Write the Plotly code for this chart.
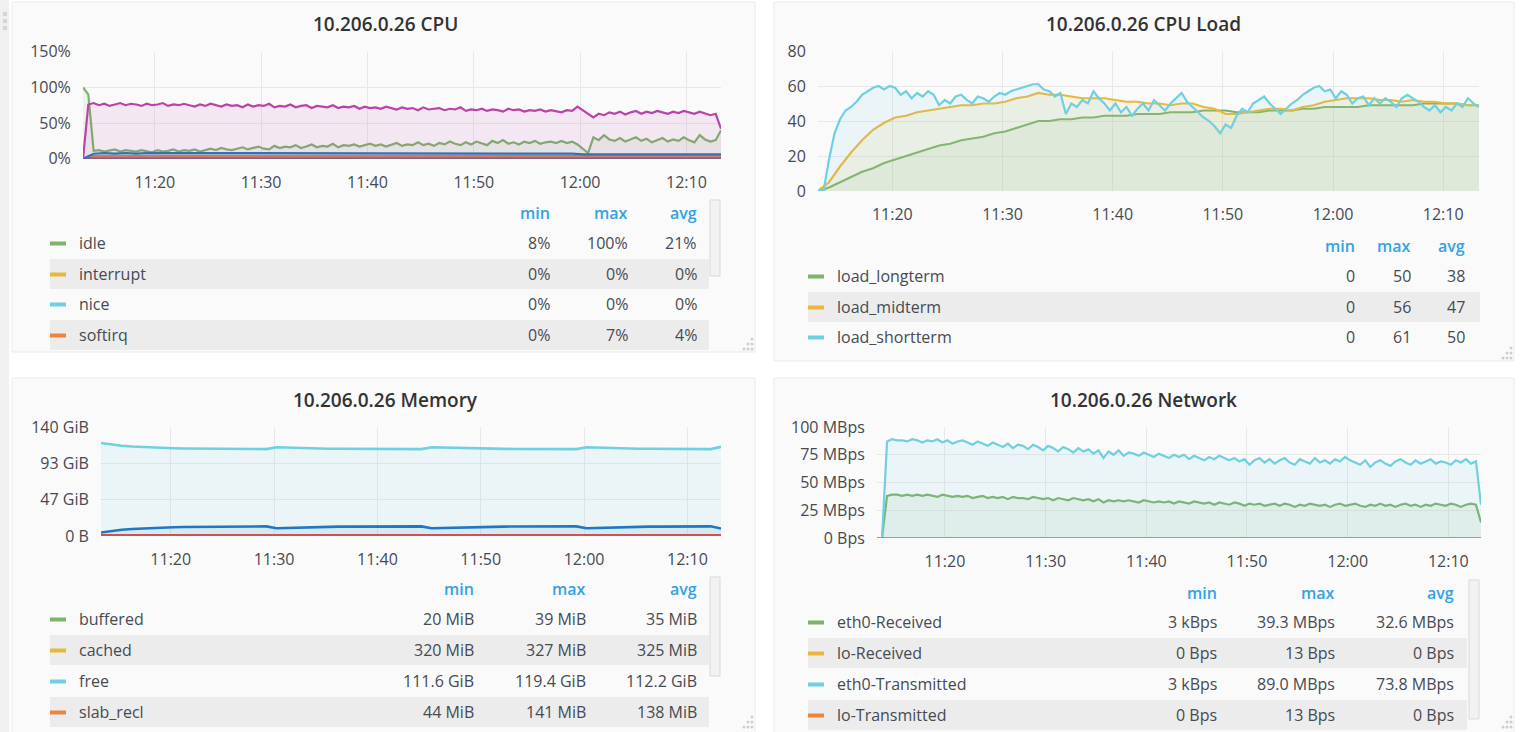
import plotly.graph_objects as go
import pandas as pd

W, H = 1520, 732
T0 = pd.Timestamp("2024-01-01 11:13:15")
T1 = pd.Timestamp("2024-01-01 12:13:15")

# ---------------- CPU panel (percent) ----------------
cpu_names = ["idle", "interrupt", "nice", "softirq", "steal", "system", "user", "wait"]
cpu_idle = [
    100, 90, 11, 12, 10, 11, 13, 10, 12, 11,
    10, 12, 11, 9, 12, 10, 11, 13, 10, 12,
    11, 13, 10, 12, 14, 12, 15, 13, 12, 14,
    16, 13, 15, 17, 14, 13, 18, 15, 17, 16,
    19, 15, 17, 20, 16, 18, 17, 21, 16, 19,
    18, 20, 17, 19, 21, 18, 20, 17, 19, 22,
    18, 20, 19, 23, 19, 21, 18, 22, 20, 24,
    21, 19, 23, 20, 24, 21, 19, 25, 22, 26,
    21, 23, 20, 24, 22, 25, 21, 23, 24, 22,
    25, 22, 24, 20, 14, 8, 30, 26, 33, 27,
    25, 29, 24, 27, 30, 25, 28, 23, 26, 29,
    24, 27, 25, 30, 26, 23, 33, 27, 24, 26,
    40]
cpu_interrupt = [0, 0, 0, 0, 0, 0, 0, 0, 0, 0, 0, 0, 0]
cpu_nice = [0, 0, 0, 0, 0, 0, 0, 0, 0, 0, 0, 0, 0]
cpu_softirq = [
    0, 4, 4, 4, 5, 4, 4, 4, 4, 4,
    4, 4, 5, 4, 4, 4, 4, 4, 4, 5,
    4, 4, 4, 4, 4, 4, 5, 4, 4, 4,
    4, 4, 4, 4, 4, 5, 4, 4, 4, 4,
    4, 4, 4, 4, 4, 4, 4, 4, 4, 4,
    4, 4, 4, 4, 4, 4, 4, 4, 4, 4,
    4]
cpu_steal = [0, 0, 0, 0, 0, 0, 0, 0, 0, 0, 0, 0, 0]
cpu_system = [
    0, 7, 8, 7, 8, 7, 8, 8, 7, 8,
    7, 8, 7, 8, 7, 7, 8, 7, 8, 7,
    7, 8, 7, 7, 8, 7, 7, 8, 7, 7,
    8, 7, 7, 8, 7, 7, 7, 8, 7, 7,
    7, 8, 7, 7, 7, 7, 7, 6, 6, 6,
    6, 7, 6, 6, 7, 6, 6, 6, 7, 6,
    6]
cpu_user = [
    0, 76, 78, 75, 77, 74, 76, 78, 75, 77,
    76, 74, 77, 75, 76, 78, 74, 76, 75, 77,
    75, 73, 76, 74, 77, 75, 73, 76, 74, 75,
    72, 76, 73, 75, 74, 77, 72, 74, 73, 76,
    72, 74, 75, 71, 74, 73, 72, 75, 71, 73,
    72, 74, 70, 73, 71, 72, 70, 73, 71, 69,
    72, 70, 71, 68, 72, 69, 70, 71, 68, 70,
    69, 72, 67, 69, 68, 70, 67, 69, 68, 66,
    70, 68, 69, 66, 68, 67, 69, 66, 68, 67,
    65, 68, 67, 73, 68, 62, 58, 63, 61, 65,
    63, 66, 62, 65, 67, 63, 66, 64, 67, 65,
    63, 66, 64, 67, 65, 63, 66, 64, 61, 63,
    42]
cpu_wait = [0, 0.3, 0.3, 0.3, 0.3, 0.3, 0.3, 0.3, 0.3, 0.3, 0.3, 0.3, 0.3]
cpu_tick_vals = [0, 50, 100, 150]
cpu_tick_text = ["0%", "50%", "100%", "150%"]
cpu_leg_names = ["idle", "interrupt", "nice", "softirq"]
cpu_leg_min = ["8%", "0%", "0%", "0%"]
cpu_leg_max = ["100%", "0%", "0%", "7%"]
cpu_leg_avg = ["21%", "0%", "0%", "4%"]

# ---------------- CPU Load panel ----------------
load_shortterm = [
    0, 0, 18, 33, 41, 46, 48, 51, 55, 57,
    59, 60, 58, 60, 59, 55, 57, 53, 56, 54,
    57, 55, 49, 52, 50, 54, 55, 52, 50, 54,
    53, 51, 54, 56, 55, 57, 58, 59, 60, 61,
    61, 58, 57, 54, 56, 44, 50, 48, 52, 50,
    57, 53, 50, 46, 50, 45, 48, 43, 47, 50,
    46, 52, 49, 46, 50, 53, 56, 51, 48, 45,
    42, 40, 37, 33, 38, 36, 43, 47, 45, 50,
    52, 54, 50, 47, 44, 47, 50, 52, 55, 57,
    59, 60, 57, 58, 53, 57, 55, 50, 53, 54,
    49, 53, 50, 53, 51, 48, 53, 55, 53, 51,
    48, 46, 49, 45, 48, 46, 50, 48, 53, 50,
    48]
load_midterm = [
    0, 5, 14, 22, 29, 35, 39, 42, 43, 45,
    46, 47, 48, 49, 49, 50, 50, 51, 53, 54,
    56, 55, 55, 54, 53, 53, 53, 52, 51, 51,
    50, 50, 49, 50, 50, 48, 47, 44, 44, 45,
    46, 47, 47, 46, 48, 49, 51, 52, 53, 53,
    53, 52, 52, 51, 52, 51, 51, 50, 50, 49,
    49]
load_longterm = [
    0, 2, 5, 8, 11, 13, 16, 18, 20, 22,
    24, 26, 27, 29, 30, 31, 33, 34, 36, 38,
    40, 40, 41, 41, 42, 42, 43, 43, 43, 44,
    44, 44, 45, 45, 45, 46, 46, 46, 45, 45,
    45, 46, 46, 46, 47, 47, 48, 48, 48, 48,
    49, 49, 49, 49, 49, 50, 50, 50, 50, 49,
    49]
load_leg_names = ["load_longterm", "load_midterm", "load_shortterm"]
load_leg_min = ["0", "0", "0"]
load_leg_max = ["50", "56", "61"]
load_leg_avg = ["38", "47", "50"]

# ---------------- Memory panel (GiB) ----------------
mem_buffered = [0.02, 0.034, 0.035, 0.035, 0.036, 0.036, 0.036, 0.037, 0.037, 0.038, 0.038, 0.038, 0.038]
mem_cached = [0.32, 0.322, 0.324, 0.325, 0.325, 0.326, 0.326, 0.326, 0.327, 0.327, 0.327, 0.327, 0.327]
mem_free = [
    119.4, 117.5, 116.0, 115.0, 114.2, 113.6, 113.1, 112.7, 112.4, 112.2,
    112.0, 111.9, 111.8, 111.7, 111.7, 111.6, 111.6, 114.0, 113.5, 113.0,
    112.6, 112.3, 112.1, 112.0, 111.9, 111.8, 111.8, 111.7, 111.7, 111.7,
    111.6, 111.6, 114.0, 113.6, 113.1, 112.7, 112.4, 112.2, 112.0, 111.9,
    111.8, 111.8, 111.7, 111.7, 111.7, 111.6, 111.6, 114.0, 113.5, 113.0,
    112.6, 112.3, 112.1, 112.0, 111.9, 111.8, 111.7, 111.7, 111.6, 111.6,
    114.5]
mem_slab_recl = [0.043, 0.13, 0.135, 0.136, 0.137, 0.137, 0.138, 0.138, 0.138, 0.139, 0.139, 0.14, 0.138]
mem_slab_unrecl = [0.8, 0.9, 0.9, 0.9, 0.9, 0.9, 0.9, 0.9, 0.9, 0.9, 0.9, 0.9, 0.9]
mem_used = [
    4.5, 6.5, 8.0, 9.0, 9.8, 10.4, 10.9, 11.3, 11.6, 11.8,
    12.0, 12.1, 12.2, 12.3, 12.3, 12.4, 12.4, 10.0, 10.5, 11.0,
    11.4, 11.7, 11.9, 12.0, 12.1, 12.2, 12.2, 12.3, 12.3, 12.3,
    12.4, 12.4, 10.0, 10.4, 10.9, 11.3, 11.6, 11.8, 12.0, 12.1,
    12.2, 12.2, 12.3, 12.3, 12.3, 12.4, 12.4, 10.0, 10.5, 11.0,
    11.4, 11.7, 11.9, 12.0, 12.1, 12.2, 12.3, 12.3, 12.4, 12.4,
    9.5]
mem_tick_vals = [0, 140 / 3, 280 / 3, 140]
mem_tick_text = ["0 B", "47 GiB", "93 GiB", "140 GiB"]
mem_leg_names = ["buffered", "cached", "free", "slab_recl"]
mem_leg_min = ["20 MiB", "320 MiB", "111.6 GiB", "44 MiB"]
mem_leg_max = ["39 MiB", "327 MiB", "119.4 GiB", "141 MiB"]
mem_leg_avg = ["35 MiB", "325 MiB", "112.2 GiB", "138 MiB"]

# ---------------- Network panel (MBps) ----------------
net_eth0_rx = [
    0, 0, 38, 39, 39, 38, 39, 38, 39, 38,
    39, 38, 37, 39, 38, 37, 38, 37, 38, 36,
    37, 38, 36, 37, 36, 37, 35, 37, 36, 36,
    35, 37, 36, 35, 36, 34, 36, 35, 34, 36,
    35, 34, 35, 33, 35, 32, 34, 33, 34, 33,
    34, 33, 32, 34, 33, 32, 33, 32, 33, 31,
    33, 32, 31, 33, 32, 31, 32, 30, 32, 31,
    30, 32, 31, 29, 31, 30, 31, 29, 30, 31,
    29, 31, 30, 28, 30, 29, 31, 30, 29, 30,
    28, 30, 31, 29, 30, 31, 29, 28, 30, 29,
    31, 29, 30, 28, 30, 31, 29, 30, 28, 30,
    29, 31, 30, 29, 31, 30, 28, 30, 31, 30,
    14]
net_lo_rx = [0, 0, 0, 0, 0, 0, 0, 0, 0, 0, 0, 0, 0]
net_eth0_tx = [
    0, 0, 87, 89, 88, 88, 87, 89, 88, 86,
    88, 87, 89, 86, 88, 85, 87, 88, 86, 84,
    87, 85, 83, 86, 84, 82, 85, 81, 84, 83,
    80, 84, 82, 79, 83, 81, 78, 82, 80, 77,
    81, 78, 80, 76, 79, 72, 78, 75, 79, 74,
    77, 76, 74, 77, 75, 73, 76, 74, 72, 75,
    73, 75, 71, 74, 72, 70, 73, 71, 74, 72,
    70, 72, 69, 71, 66, 70, 72, 68, 71, 67,
    70, 72, 68, 66, 71, 69, 67, 72, 68, 70,
    67, 71, 69, 73, 70, 68, 66, 70, 64, 68,
    70, 67, 65, 69, 71, 68, 66, 70, 67, 69,
    71, 67, 69, 68, 66, 70, 68, 71, 67, 69,
    30]
net_lo_tx = [0, 0, 0, 0, 0, 0, 0, 0, 0, 0, 0, 0, 0]
net_tick_vals = [0, 25, 50, 75, 100]
net_tick_text = ["0 Bps", "25 MBps", "50 MBps", "75 MBps", "100 MBps"]
net_leg_names = ["eth0-Received", "lo-Received", "eth0-Transmitted", "lo-Transmitted"]
net_leg_min = ["3 kBps", "0 Bps", "3 kBps", "0 Bps"]
net_leg_max = ["39.3 MBps", "13 Bps", "89.0 MBps", "13 Bps"]
net_leg_avg = ["32.6 MBps", "0 Bps", "73.8 MBps", "0 Bps"]

# ---------------- styling ----------------
GREEN, YELLOW, LBLUE, ORANGE = "#7EB26D", "#EAB839", "#6ED0E0", "#EF843C"
RED, BLUE, PURPLE, DPURPLE = "#E24D42", "#1F78C1", "#BA43A9", "#705DA0"
FONT = "Open Sans"
TXT = "#464a52"
HDR = "#33a2e5"


def times(n):
    return pd.date_range(T0, T1, periods=n)


def rgba(hx, a):
    h = hx.lstrip("#")
    return "rgba(%d,%d,%d,%.2f)" % (int(h[0:2], 16), int(h[2:4], 16), int(h[4:6], 16), a)


def px(x):
    return x / W


def py(y):
    return 1 - y / H


fig = go.Figure()


def add(ys, color, k, name, width=2.2):
    fig.add_trace(go.Scatter(
        x=times(len(ys)), y=ys, mode="lines", name=name,
        line=dict(color=color, width=width), fill="tozeroy", fillcolor=rgba(color, 0.1),
        xaxis="x" if k == 1 else "x%d" % k, yaxis="y" if k == 1 else "y%d" % k,
        hoverinfo="skip", showlegend=False))


for ys, c, n in [(cpu_idle, GREEN, "idle"), (cpu_interrupt, YELLOW, "interrupt"), (cpu_nice, LBLUE, "nice"),
                 (cpu_softirq, ORANGE, "softirq"), (cpu_steal, RED, "steal"), (cpu_system, BLUE, "system"),
                 (cpu_user, PURPLE, "user"), (cpu_wait, DPURPLE, "wait")]:
    add(ys, c, 1, n)
for ys, c, n in [(load_longterm, GREEN, "load_longterm"), (load_midterm, YELLOW, "load_midterm"),
                 (load_shortterm, LBLUE, "load_shortterm")]:
    add(ys, c, 2, n)
for ys, c, n in [(mem_buffered, GREEN, "buffered"), (mem_cached, YELLOW, "cached"), (mem_free, LBLUE, "free"),
                 (mem_slab_recl, ORANGE, "slab_recl"), (mem_slab_unrecl, RED, "slab_unrecl"), (mem_used, BLUE, "used")]:
    add(ys, c, 3, n, width=2.6)
for ys, c, n in [(net_eth0_rx, GREEN, "eth0-Received"), (net_lo_rx, YELLOW, "lo-Received"),
                 (net_eth0_tx, LBLUE, "eth0-Transmitted"), (net_lo_tx, ORANGE, "lo-Transmitted")]:
    add(ys, c, 4, n)

# plot areas in pixels: (x0, x1, ytop, ybottom)
areas = {1: (83, 721, 51.7, 158.7), 2: (818, 1479, 51, 191), 3: (101, 721, 427, 536), 4: (877, 1481, 427, 538)}
yconf = {1: (150, cpu_tick_vals, cpu_tick_text), 2: (80, [0, 20, 40, 60, 80], ["0", "20", "40", "60", "80"]),
         3: (140, mem_tick_vals, mem_tick_text), 4: (100, net_tick_vals, net_tick_text)}

lay = {}
for k, (x0, x1, yt, yb) in areas.items():
    xa = "xaxis" if k == 1 else "xaxis%d" % k
    ya = "yaxis" if k == 1 else "yaxis%d" % k
    yn = "y" if k == 1 else "y%d" % k
    xn = "x" if k == 1 else "x%d" % k
    lay[xa] = dict(domain=[px(x0), px(x1)], anchor=yn, range=[T0, T1], type="date",
                   tickformat="%H:%M", dtick=600000, tick0="2024-01-01 11:00:00",
                   showgrid=True, gridcolor="#e8e8e8", gridwidth=1, zeroline=False, showline=False,
                   ticks="outside", ticklen=9, tickcolor="rgba(0,0,0,0)", automargin=False,
                   tickfont=dict(family=FONT, size=16, color=TXT), fixedrange=True)
    top, tv, tt = yconf[k]
    lay[ya] = dict(domain=[py(yb), py(yt)], anchor=xn, range=[0, top], tickvals=tv, ticktext=tt,
                   showgrid=True, gridcolor="#e8e8e8", gridwidth=1, zeroline=False, showline=False,
                   ticks="outside", ticklen=8, tickcolor="rgba(0,0,0,0)", automargin=False,
                   tickfont=dict(family=FONT, size=16, color=TXT), fixedrange=True)

shapes = []
anns = []


def rect(x0, y0, x1, y1, fill, line=None, lw=1):
    shapes.append(dict(type="rect", xref="paper", yref="paper", x0=px(x0), x1=px(x1), y0=py(y1), y1=py(y0),
                       fillcolor=fill, line=dict(color=line or "rgba(0,0,0,0)", width=lw if line else 0),
                       layer="below"))


def text(x, y, s, size=16, color=TXT, anchor="left", weight=400):
    anns.append(dict(x=px(x), y=py(y), xref="paper", yref="paper", text=s, showarrow=False,
                     xanchor=anchor, yanchor="middle", font=dict(family=FONT, size=size, color=color, weight=weight)))


# page background strip and panels
rect(0, 0, 9, H, "#f0f0f0")
for (x0, y0, x1, y1) in [(12, 2, 755, 352), (774, 2, 1514, 361), (12, 378, 755, 740), (774, 378, 1514, 740)]:
    rect(x0, y0, x1, y1, "#fafafa", "#ebebeb", 1)
# drag handle
for yy in (12, 19, 26):
    rect(3, yy, 7, yy + 4, "#d6d6d6")

# titles
text(385, 24, "10.206.0.26 CPU", size=19, color="#333333", anchor="center", weight=600)
text(1143, 24, "10.206.0.26 CPU Load", size=19, color="#333333", anchor="center", weight=600)
text(385, 400, "10.206.0.26 Memory", size=19, color="#333333", anchor="center", weight=600)
text(1143, 400, "10.206.0.26 Network", size=19, color="#333333", anchor="center", weight=600)


def legend(names, mins, maxs, avgs, colors, hdr_y, row_ys, sw_x, lbl_x, cols, stripe_x1, stripe_h=30):
    text(cols[0], hdr_y, "min", color=HDR, anchor="right", weight=600)
    text(cols[1], hdr_y, "max", color=HDR, anchor="right", weight=600)
    text(cols[2], hdr_y, "avg", color=HDR, anchor="right", weight=600)
    for i, (n, a, b, c, col) in enumerate(zip(names, mins, maxs, avgs, colors)):
        yy = row_ys[i]
        if i % 2 == 1:
            rect(sw_x, yy - stripe_h / 2, stripe_x1, yy + stripe_h / 2, "#ececec")
        rect(sw_x, yy - 1.5, sw_x + 16, yy + 2.5, col)
        text(lbl_x, yy, n)
        text(cols[0], yy, a, anchor="right")
        text(cols[1], yy, b, anchor="right")
        text(cols[2], yy, c, anchor="right")


legend(cpu_leg_names, cpu_leg_min, cpu_leg_max, cpu_leg_avg, [GREEN, YELLOW, LBLUE, ORANGE],
       213, [243, 274, 304, 335], 50, 77, (552, 630, 699), 709)
legend(load_leg_names, load_leg_min, load_leg_max, load_leg_avg, [GREEN, YELLOW, LBLUE],
       246, [276, 307, 337], 808, 835, (1357, 1413, 1467), 1480)
legend(mem_leg_names, mem_leg_min, mem_leg_max, mem_leg_avg, [GREEN, YELLOW, LBLUE, ORANGE],
       589, [619, 650, 681, 712], 50, 77, (476, 588, 699), 709)
legend(net_leg_names, net_leg_min, net_leg_max, net_leg_avg, [GREEN, YELLOW, LBLUE, ORANGE],
       593, [622, 653, 684, 715], 808, 835, (1219, 1337, 1456), 1467)

# scrollbars
rect(710, 200, 720, 276, "#f2f2f2", "#d9d9d9", 1)
rect(710, 577, 720, 676, "#f2f2f2", "#d9d9d9", 1)
rect(1469, 580, 1479, 719, "#f2f2f2", "#d9d9d9", 1)

# resize handles
for (cx, cy) in [(752, 349), (1511, 358), (752, 727), (1511, 727)]:
    for (dx, dy) in [(0, -10), (-4, -5), (0, -5), (-8, 0), (-4, 0), (0, 0)]:
        shapes.append(dict(type="circle", xref="paper", yref="paper", x0=px(cx + dx - 1.5), x1=px(cx + dx + 1.5),
                           y0=py(cy + dy + 1.5), y1=py(cy + dy - 1.5), fillcolor="#cfcfcf",
                           line=dict(width=0), layer="above"))

fig.update_layout(width=W, height=H, autosize=False,
                  margin=dict(l=0, r=0, t=0, b=0, pad=0, autoexpand=False),
                  paper_bgcolor="#ffffff", plot_bgcolor="rgba(0,0,0,0)", showlegend=False,
                  hovermode=False, shapes=shapes, annotations=anns, font=dict(family=FONT), **lay)

fig.write_html("out.html", config={"displayModeBar": False},
               post_script="document.body.style.margin='0';document.body.style.overflow='hidden';")
